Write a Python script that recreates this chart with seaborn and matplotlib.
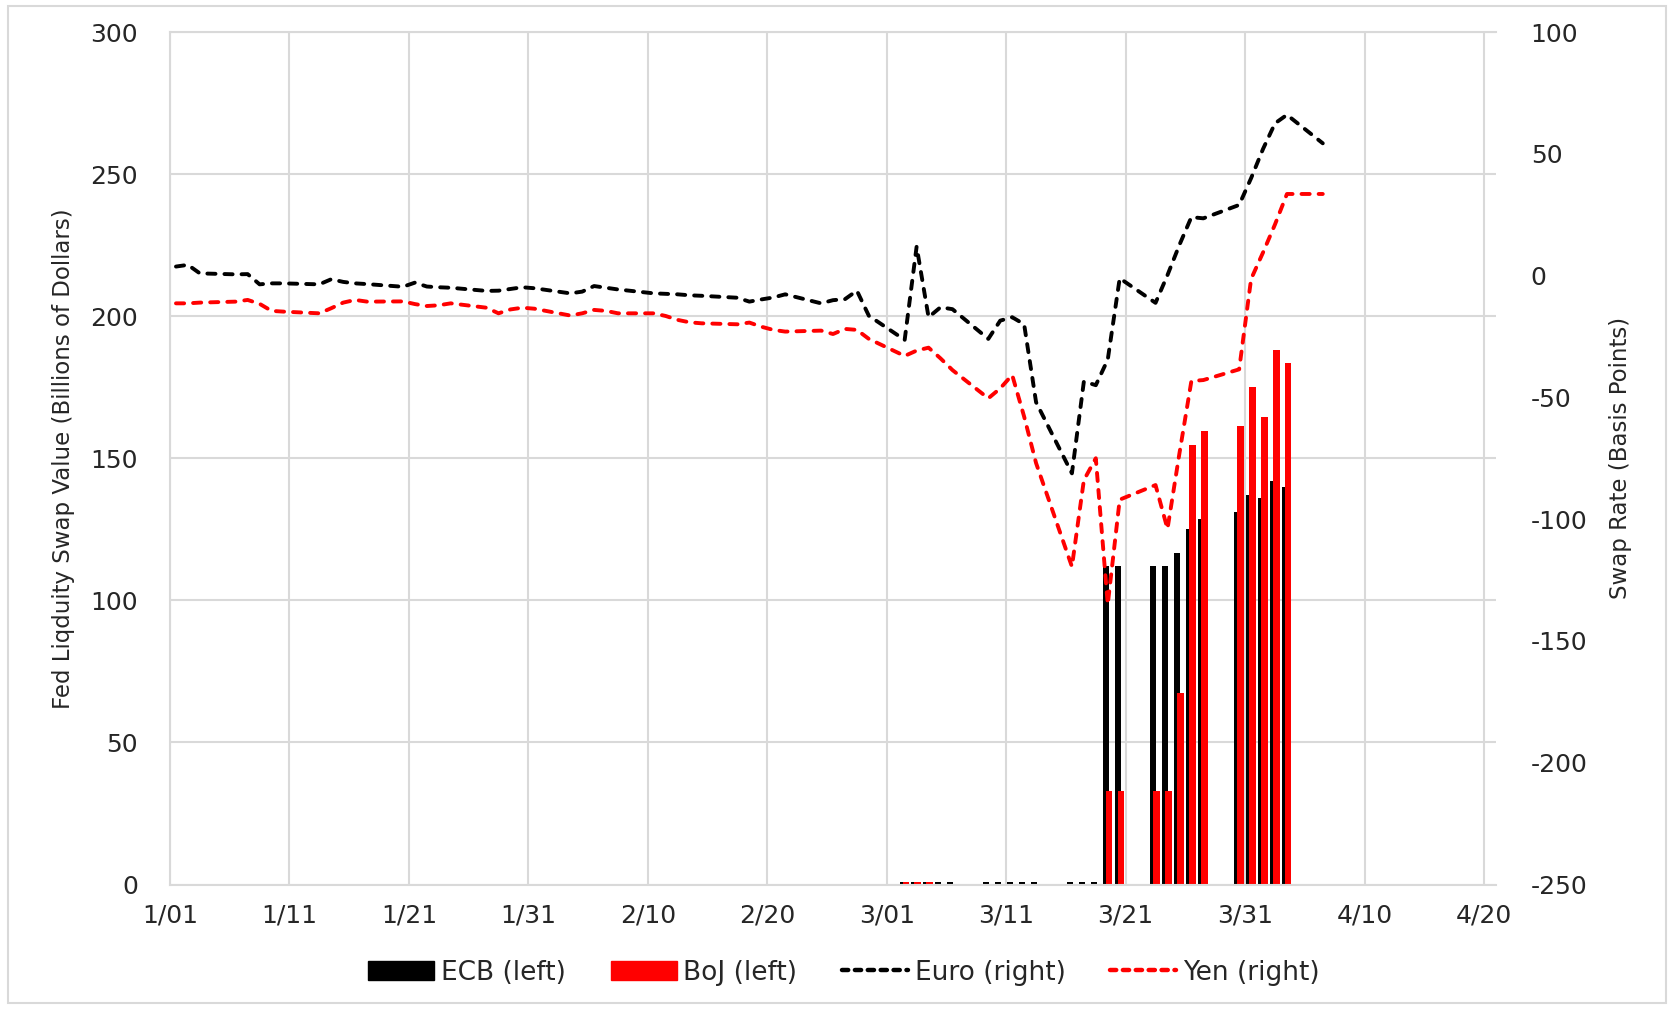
import matplotlib
matplotlib.use("Agg")
import matplotlib.pyplot as plt
from matplotlib.lines import Line2D
from matplotlib.patches import Patch, Rectangle
import pandas as pd
import seaborn as sns

# FX swap rates vs USD, basis points (right axis)
rate_dates = ["1/01", "1/02", "1/03", "1/06", "1/07", "1/08", "1/09", "1/10", "1/13", "1/14",
              "1/15", "1/16", "1/17", "1/20", "1/21", "1/22", "1/23", "1/24", "1/27", "1/28",
              "1/29", "1/30", "1/31",
              "2/03", "2/04", "2/05", "2/06", "2/07", "2/10", "2/11", "2/12", "2/13", "2/14",
              "2/17", "2/18", "2/19", "2/20", "2/21", "2/24", "2/25", "2/26", "2/27", "2/28",
              "3/02", "3/03", "3/04", "3/05", "3/06", "3/09", "3/10", "3/11", "3/12", "3/13",
              "3/16", "3/17", "3/18", "3/19", "3/20", "3/23", "3/24", "3/25", "3/26", "3/27",
              "3/30", "3/31",
              "4/01", "4/02", "4/03", "4/06"]
euro_rate = [3.7, 4.4, 0.9, 0.5, 0.6, -3.6, -3.2, -3.2, -3.6, -1.5,
             -2.6, -3.2, -3.5, -4.6, -2.9, -4.5, -4.8, -5.0, -6.3, -6.2,
             -5.5, -4.8, -5.2,
             -7.3, -6.6, -4.3, -5.0, -5.7, -7.3, -7.5, -7.7, -8.1, -8.3,
             -9.1, -10.7, -9.8, -9.0, -7.7, -11.4, -10.1, -9.7, -6.2, -16.5,
             -26.4, 11.9, -17.1, -13.0, -13.8, -26.0, -18.5, -17.1, -20.0, -52.0,
             -81.2, -43.5, -45.0, -34.5, -1.1, -11.2, 0.2, 12.6, 24.0, 23.5,
             29.0, 40.0,
             52.0, 62.5, 66.0, 54.3]
yen_rate = [-11.4, -11.4, -11.1, -10.7, -10.0, -11.6, -14.5, -14.8, -15.5, -13.4,
            -11.1, -10.0, -10.7, -10.6, -11.7, -12.5, -12.2, -11.4, -13.2, -15.5,
            -13.9, -13.2, -13.6,
            -16.4, -15.5, -14.1, -14.5, -15.5, -15.5, -16.6, -18.2, -19.2, -19.6,
            -20.0, -19.3, -21.0, -22.3, -23.0, -22.6, -24.0, -21.9, -22.3, -26.0,
            -33.0, -30.8, -29.6, -34.0, -38.8, -50.4, -46.3, -40.8, -57.9, -77.0,
            -119.5, -84.0, -75.0, -135.0, -92.0, -86.0, -104.0, -73.0, -43.3, -42.9,
            -38.5, -1.4,
            9.5, 21.0, 33.5, 33.5]

# Fed liquidity swaps outstanding, billions of dollars (left axis)
ecb_dates = ["3/02", "3/03", "3/04", "3/05", "3/06", "3/09", "3/10", "3/11", "3/12", "3/13",
             "3/16", "3/17", "3/18", "3/19", "3/20", "3/23", "3/24", "3/25", "3/26", "3/27",
             "3/30", "3/31", "4/01", "4/02", "4/03"]
ecb_value = [0.8, 0.8, 0.8, 0.8, 0.8, 0.8, 0.8, 0.8, 0.8, 0.8,
             0.8, 0.8, 0.8, 112, 112, 112, 112, 116.5, 125, 128.5,
             131, 137, 136, 142, 140]
boj_dates = ["3/02", "3/03", "3/04", "3/19", "3/20", "3/23", "3/24", "3/25", "3/26", "3/27",
             "3/30", "3/31", "4/01", "4/02", "4/03"]
boj_value = [0.8, 0.8, 0.8, 33, 33, 33, 33, 67.5, 154.5, 159.5,
             161.5, 175, 164.5, 188, 183.5]

x_tick_labels = ["1/01", "1/11", "1/21", "1/31", "2/10", "2/20",
                 "3/01", "3/11", "3/21", "3/31", "4/10", "4/20"]
left_ticks = [0, 50, 100, 150, 200, 250, 300]
right_ticks = [-250, -200, -150, -100, -50, 0, 50, 100]

START = pd.Timestamp("2020-01-01")
GRID = "#d9d9d9"


def day_pos(dates, shift=0.5):
    # Excel date axis: each day is a slot, the point sits inside the slot
    d = pd.to_datetime(["2020/" + s for s in dates], format="%Y/%m/%d")
    return [(x - START).days + shift for x in d]


sns.set_style("white")
plt.rcParams["font.family"] = ["DejaVu Sans"]
plt.rcParams["axes.unicode_minus"] = False

fig = plt.figure(figsize=(16.71, 10.09), dpi=100)
fig.subplots_adjust(left=170 / 1671, right=1496 / 1671,
                    bottom=1 - 884.5 / 1009, top=1 - 32 / 1009)
ax = fig.add_subplot(111)

# bars: ECB first, BoJ overlapping on top
sns.barplot(x=day_pos(ecb_dates, 0.32), y=ecb_value, native_scale=True,
            color="black", saturation=1, width=0.5, errorbar=None,
            linewidth=0, ax=ax)
sns.barplot(x=day_pos(boj_dates, 0.60), y=boj_value, native_scale=True,
            color="#ff0000", saturation=1, width=0.56, errorbar=None,
            linewidth=0, ax=ax)

ax2 = ax.twinx()
dash = (0, (2.1, 2.3))
sns.lineplot(x=day_pos(rate_dates), y=euro_rate, ax=ax2, color="black",
             linewidth=2.8, linestyle=dash, dash_capstyle="round",
             estimator=None, sort=False)
sns.lineplot(x=day_pos(rate_dates), y=yen_rate, ax=ax2, color="#ff0000",
             linewidth=2.8, linestyle=dash, dash_capstyle="round",
             estimator=None, sort=False)

ax.set_xlim(0, 111)
ax.set_xticks(range(0, 111, 10))
ax.set_xticklabels(x_tick_labels)
ax.set_ylim(0, 300)
ax.set_yticks(left_ticks)
ax.set_yticklabels([str(v) for v in left_ticks])
ax2.set_ylim(-250, 100)
ax2.set_yticks(right_ticks)
ax2.set_yticklabels([str(v) for v in right_ticks])

ax.grid(True, color=GRID, linewidth=1.5)
ax.set_axisbelow(True)
ax2.grid(False)
for side in ["left", "top", "bottom"]:
    ax.spines[side].set_color(GRID)
    ax.spines[side].set_linewidth(1.5)
ax.spines["right"].set_visible(False)
for s in ax2.spines.values():
    s.set_visible(False)

ax.tick_params(axis="x", length=7, width=1.5, color=GRID, labelsize=18, pad=7)
ax.tick_params(axis="y", length=0, labelsize=18, pad=23)
ax2.tick_params(axis="y", length=0, labelsize=18, pad=25)

ax.set_xlabel("")
ax.set_ylabel("Fed Liqduity Swap Value (Billions of Dollars)", fontsize=16.5)
ax.yaxis.set_label_coords(-0.072, 0.5)
ax2.set_ylabel("Swap Rate (Basis Points)", fontsize=16.5, rotation=90)
ax2.yaxis.set_label_coords(1.085, 0.5)

handles = [Patch(color="black"), Patch(color="#ff0000"),
           Line2D([], [], color="black", linewidth=3.2, linestyle=(0, (1.4, 1.5)),
                  dash_capstyle="round"),
           Line2D([], [], color="#ff0000", linewidth=3.2, linestyle=(0, (1.4, 1.5)),
                  dash_capstyle="round")]
labels = ["ECB (left)", "BoJ (left)", "Euro (right)", "Yen (right)"]
fig.legend(handles, labels, loc="center", bbox_to_anchor=(0.505, 0.036), ncol=4,
           frameon=False, fontsize=19, handlelength=2.5, handleheight=0.7,
           handletextpad=0.25, columnspacing=1.7)

# light frame round the whole chart, as in the spreadsheet export
fig.patches.append(Rectangle((0.005, 0.006), 0.992, 0.988, transform=fig.transFigure,
                             fill=False, edgecolor=GRID, linewidth=1.5))

fig.savefig("out.png", dpi=100)
